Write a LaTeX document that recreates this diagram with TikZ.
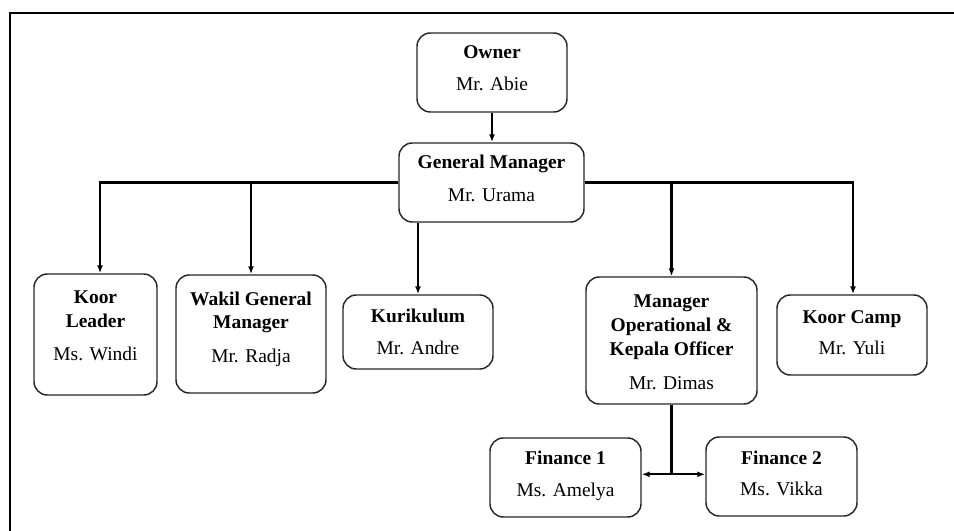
\documentclass[tikz,border=0pt]{standalone}
\usepackage{fontspec}
\setmainfont{Liberation Serif}
\usetikzlibrary{arrows.meta}
\begin{document}
\begin{tikzpicture}[x=0.75pt,y=-0.75pt,
  box/.style 2 args={draw=black!85, line width=1.1pt, rounded corners=10pt, inner sep=0pt,
     minimum width=#1*0.75pt, minimum height=#2*0.75pt},
  txt/.style={anchor=base, inner sep=0pt, font=\fontsize{14.6}{17}\selectfont},
  ttl/.style={txt, font=\fontsize{14.6}{17}\selectfont\bfseries},
  conn/.style={line width=1.6pt, black},
  arr/.style={conn, -{Latex[length=6pt,width=4.5pt]}},
  arrb/.style={conn, {Latex[length=6pt,width=4.5pt]}-{Latex[length=6pt,width=4.5pt]}},
  frame/.style={line width=2pt, black}]
\useasboundingbox (0,0) rectangle (954,531);
% frame
\coordinate (frBL) at (10,531);
\coordinate (frTL) at (10,13);
\coordinate (frTR) at (954,13);
\draw[frame] (frBL) -- (frTL) -- (frTR);

% boxes
\node[box={150}{79}]  (owner) at (492,72.5) {};
\node[box={185}{79}]  (gm)    at (491.5,182.5) {};
\node[box={123}{121}] (kl)    at (95.5,334.5) {};
\node[box={150}{118}] (wakil) at (251,334) {};
\node[box={150}{74}]  (kur)   at (418,332) {};
\node[box={171}{127}] (mo)    at (671.5,340.5) {};
\node[box={150}{80}]  (kc)    at (852,335) {};
\node[box={151}{79}]  (fa)    at (565.5,477.5) {};
\node[box={151}{79}]  (fb)    at (781.5,476.5) {};

% texts
\node[ttl] (ownerT) at (492,59) {Owner};
\node[txt] (ownerN) at (492,91) {Mr. Abie};
\node[ttl] (gmT) at (491.5,169) {General Manager};
\node[txt] (gmN) at (491.5,201.5) {Mr. Urama};
\node[ttl] (klT1) at (95.5,304) {Koor};
\node[ttl] (klT2) at (95.5,328) {Leader};
\node[txt] (klN) at (95.5,360) {Ms. Windi};
\node[ttl] (waT1) at (251,305.5) {Wakil General};
\node[ttl] (waT2) at (251,329) {Manager};
\node[txt] (waN) at (251,362.5) {Mr. Radja};
\node[ttl] (kuT) at (418,322.5) {Kurikulum};
\node[txt] (kuN) at (418,354) {Mr. Andre};
\node[ttl] (moT1) at (671.5,307.5) {Manager};
\node[ttl] (moT2) at (671.5,331) {Operational \&};
\node[ttl] (moT3) at (671.5,355) {Kepala Officer};
\node[txt] (moN) at (671.5,389) {Mr. Dimas};
\node[ttl] (kcT) at (852,323.5) {Koor Camp};
\node[txt] (kcN) at (852,354.5) {Mr. Yuli};
\node[ttl] (faT) at (565.5,464) {Finance 1};
\node[txt] (faN) at (565.5,496) {Ms. Amelya};
\node[ttl] (fbT) at (781.5,464) {Finance 2};
\node[txt] (fbN) at (781.5,495.5) {Ms. Vikka};

% connectors
\draw[arr] (owner.south) -- (owner.south |- gm.north);
\draw[arr] (gm.west) -| ([xshift=3.4pt]kl.north);
\draw[arr] (gm.west -| wakil.north) -- (wakil.north);
\draw[arr] (gm.south -| kur.north) -- (kur.north);
\draw[arr] (gm.east) -| ([xshift=0.75pt]kc.north);
\draw[arr] (gm.east -| mo.north) -- (mo.north);
\coordinate (fj) at ([yshift=2.4pt]mo.south |- fa.east);
\draw[conn] (mo.south) -- (fj);
\draw[arrb] (fj -| fa.east) -- (fj -| fb.west);
\end{tikzpicture}
\end{document}
